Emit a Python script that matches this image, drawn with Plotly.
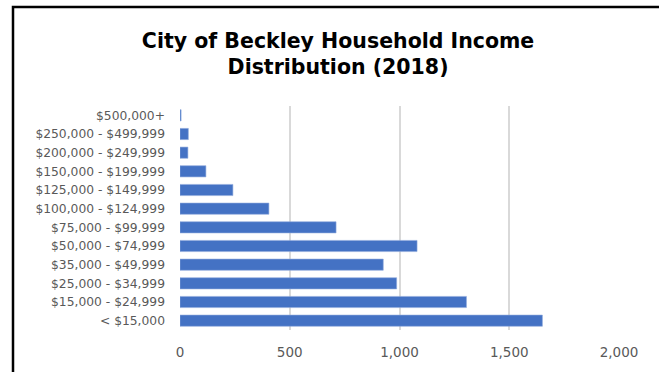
import plotly.graph_objects as go

# Household income brackets (bottom to top) and household counts
brackets = [
    "< $15,000", "$15,000 - $24,999", "$25,000 - $34,999", "$35,000 - $49,999",
    "$50,000 - $74,999", "$75,000 - $99,999", "$100,000 - $124,999",
    "$125,000 - $149,999", "$150,000 - $199,999", "$200,000 - $249,999",
    "$250,000 - $499,999", "$500,000+",
]
households = [1651, 1305, 987, 926, 1080, 711, 405, 241, 118, 36, 38, 5]

x_ticks = [0, 500, 1000, 1500, 2000]
x_tick_labels = ["0", "500", "1,000", "1,500", "2,000"]

W, H = 659, 372
L, R, T, B = 180, 40, 106, 42
pw, ph = W - L - R, H - T - B

def px_x(v):
    return (v - L) / pw

def px_y(v):
    return 1 - (v - T) / ph

fig = go.Figure(go.Bar(
    x=households, y=brackets, orientation="h",
    marker=dict(color="#4472C4", line=dict(color="#8FAADC", width=0.6)),
))

fig.update_layout(
    width=W, height=H,
    margin=dict(l=L, r=R, t=T, b=B),
    paper_bgcolor="white", plot_bgcolor="white",
    bargap=0.4,
    showlegend=False,
    font=dict(family="DejaVu Sans, sans-serif", color="#595959"),
    title=dict(
        text="<b>City of Beckley Household Income<br>Distribution (2018)</b>",
        x=0.513, xanchor="center", y=0.872, yanchor="middle",
        font=dict(size=20.5, color="#000000", family="DejaVu Sans, sans-serif"),
    ),
    xaxis=dict(
        range=[0, 2000], tickvals=x_ticks, ticktext=x_tick_labels,
        showgrid=True, gridcolor="#D9D9D9", gridwidth=2,
        zeroline=False, showline=False, ticks="",
        tickfont=dict(size=13.5, color="#595959"),
        ticklabelstandoff=12,
    ),
    yaxis=dict(
        categoryorder="array", categoryarray=brackets,
        showgrid=False, zeroline=False, showline=False, ticks="",
        tickfont=dict(size=12.3, color="#595959"),
        ticklabelstandoff=14,
    ),
    shapes=[dict(
        type="rect", xref="paper", yref="paper",
        x0=px_x(13), x1=px_x(700), y0=px_y(400), y1=px_y(7),
        line=dict(color="#000000", width=2.5), fillcolor="rgba(0,0,0,0)",
        layer="above",
    )],
)

fig.write_html("out.html")
